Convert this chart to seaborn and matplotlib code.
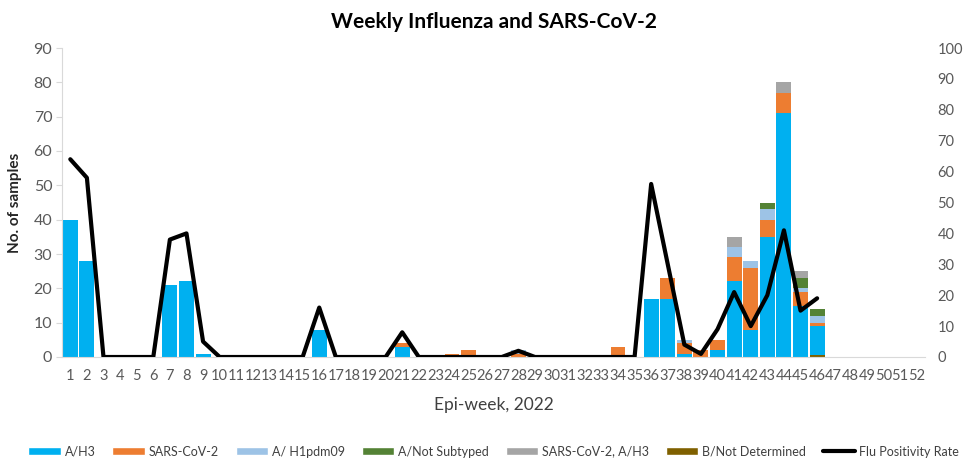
import numpy as np
import pandas as pd
import matplotlib
matplotlib.use("Agg")
import matplotlib.pyplot as plt
from matplotlib.patches import Patch
from matplotlib.lines import Line2D
import seaborn as sns

sns.set_style("white")
plt.rcParams['font.family'] = ['Lato', 'DejaVu Sans']

weeks = [str(w) for w in range(1, 53)]

def series(d):
    arr = np.zeros(52)
    for k, v in d.items():
        arr[k - 1] = v
    return arr

a_h3 = series({1: 40, 2: 28, 7: 21, 8: 22, 9: 1, 16: 8, 21: 3, 36: 17, 37: 17,
               38: 1, 40: 2, 41: 22, 42: 8, 43: 35, 44: 71, 45: 15, 46: 8.5})
sars_cov2 = series({21: 1, 24: 1, 25: 2, 28: 1, 34: 3, 37: 6, 38: 3, 39: 2, 40: 3,
                    41: 7, 42: 18, 43: 5, 44: 6, 45: 4, 46: 1})
a_h1pdm09 = series({28: 1, 38: 1, 41: 3, 42: 2, 43: 3, 45: 1, 46: 2})
a_not_subtyped = series({43: 2, 45: 3, 46: 2})
sars_a_h3 = series({41: 3, 44: 3, 45: 2})
b_not_det = series({46: 0.5})

positivity = [64, 58, 0, 0, 0, 0, 38, 40, 5, 0, 0, 0, 0, 0, 0, 16, 0, 0, 0, 0,
              8, 0, 0, 0, 0, 0, 0, 2, 0, 0, 0, 0, 0, 0, 0, 56, 30, 4, 1, 9,
              21, 10, 20, 41, 15, 19]

# stacking order from bottom to top
layers = [
    ("B/Not Determined", b_not_det, "#7F6000"),
    ("A/H3", a_h3, "#00B0F0"),
    ("SARS-CoV-2", sars_cov2, "#ED7D31"),
    ("A/ H1pdm09", a_h1pdm09, "#9DC3E6"),
    ("A/Not Subtyped", a_not_subtyped, "#548235"),
    ("SARS-CoV-2, A/H3", sars_a_h3, "#A5A5A5"),
]
legend_order = ["A/H3", "SARS-CoV-2", "A/ H1pdm09", "A/Not Subtyped",
                "SARS-CoV-2, A/H3", "B/Not Determined"]
colors = {n: c for n, _, c in layers}

fig = plt.figure(figsize=(9.64, 4.68), dpi=100)
ax = fig.add_axes([62 / 964, 1 - 357 / 468, (925 - 62) / 964, (357 - 48) / 468])

cum = np.cumsum([l[1] for l in layers], axis=0)
for i in range(len(layers) - 1, -1, -1):
    df = pd.DataFrame({"week": weeks, "val": cum[i]})
    sns.barplot(data=df, x="week", y="val", order=weeks, color=layers[i][2],
                saturation=1, width=0.9, linewidth=0, ax=ax, errorbar=None)

ax.set_ylim(0, 90)
ax.set_yticks(range(0, 91, 10))
ax.set_xlim(-0.5, 51.5)
ax.set_xlabel("Epi-week, 2022", fontsize=12.5, color="#404040", labelpad=10)
ax.set_ylabel("No. of samples", fontsize=11, fontweight="bold", color="#262626", labelpad=8)
ax.set_xticks(np.arange(-0.5, 52, 1), minor=True)
ax.tick_params(axis="x", which="major", length=0, pad=9, labelsize=10.5, labelcolor="#595959")
ax.tick_params(axis="x", which="minor", length=5, color="#D9D9D9", width=1, direction="out")
ax.tick_params(axis="y", length=4, color="#D9D9D9", labelsize=11.5, labelcolor="#595959", left=True, pad=3)
for s in ["top", "right"]:
    ax.spines[s].set_visible(False)
ax.spines["left"].set_color("#D9D9D9")
ax.spines["bottom"].set_color("#D9D9D9")

ax2 = ax.twinx()
sns.lineplot(x=np.arange(len(positivity)), y=positivity, color="black", lw=3, ax=ax2)
ax2.set_ylim(0, 100)
ax2.set_yticks(range(0, 101, 10))
ax2.set_xlim(-0.5, 51.5)
ax2.set_ylabel("")
ax2.tick_params(axis="y", length=0, pad=9, labelsize=10.5, labelcolor="#595959")
for s in ["top", "right", "left", "bottom"]:
    ax2.spines[s].set_visible(False)

fig.suptitle("Weekly Influenza and SARS-CoV-2", x=0.512, y=0.975, fontsize=15,
             fontweight="bold", color="black")

handles = [Patch(facecolor=colors[n], label=n) for n in legend_order]
handles.append(Line2D([0], [0], color="black", lw=3, label="Flu Positivity Rate"))
fig.legend(handles=handles, loc="center", bbox_to_anchor=(0.512, 0.035), ncol=7,
           frameon=False, fontsize=9, handlelength=2.6, handleheight=0.6,
           handletextpad=0.3, columnspacing=1.35, labelcolor="#404040")

fig.savefig("out.png", dpi=100)
